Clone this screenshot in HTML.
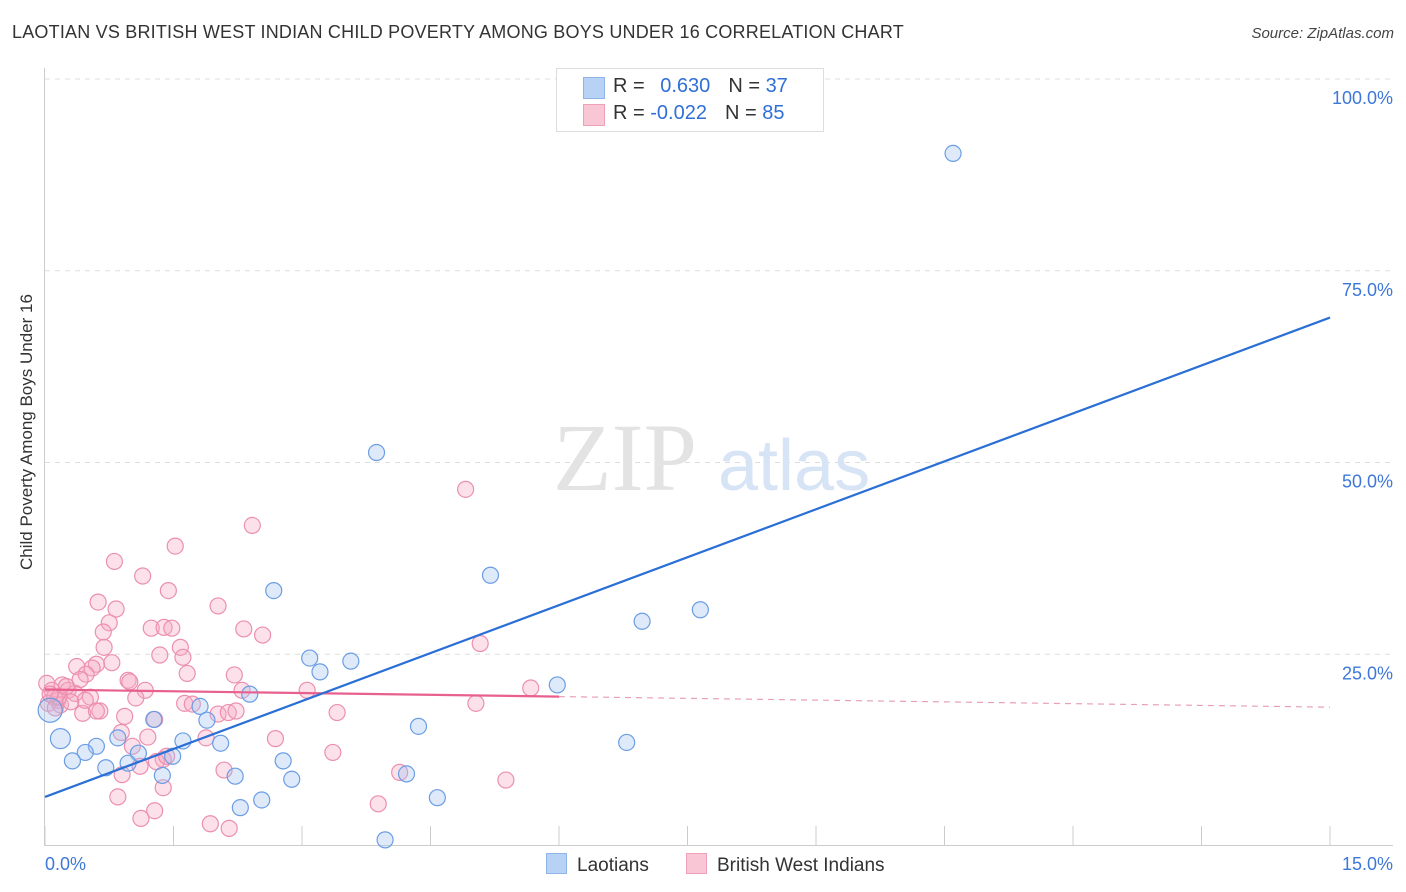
<!DOCTYPE html>
<html><head><meta charset="utf-8">
<style>
body{margin:0;background:#fff;font-family:"Liberation Sans",sans-serif;}
#wrap{position:relative;width:1406px;height:892px;overflow:hidden;}
.t{position:absolute;white-space:nowrap;}
</style></head>
<body>
<div id="wrap">
<div class="t" style="left:12px;top:22px;font-size:18px;color:#333;letter-spacing:0.2px">LAOTIAN VS BRITISH WEST INDIAN CHILD POVERTY AMONG BOYS UNDER 16 CORRELATION CHART</div>
<div class="t" style="right:12px;top:25px;font-size:15px;color:#444;font-style:italic">Source: ZipAtlas.com</div>
<div class="t" style="left:-88px;top:445px;font-size:17px;color:#333;transform:rotate(-90deg);width:230px;text-align:center">Child Poverty Among Boys Under 16</div>
<svg id="svg" width="1406" height="892" style="position:absolute;left:0;top:0"></svg>
<div style="position:absolute;left:556px;top:68px;width:266px;height:62px;border:1px solid #ddd;background:#fff;font-size:20px;">
  <div style="position:absolute;left:26px;top:8px;width:20px;height:20px;background:#b8d2f6;border:1px solid #8fb4e8"></div>
  <div class="t" style="left:56px;top:6px;color:#333">R = <span style="color:#2f6fd6;margin-left:10px">0.630</span><span style="color:#333;margin-left:18px">N = </span><span style="color:#2f6fd6">37</span></div>
  <div style="position:absolute;left:26px;top:35px;width:20px;height:20px;background:#f8c6d5;border:1px solid #eea2ba"></div>
  <div class="t" style="left:56px;top:33px;color:#333">R = <span style="color:#2f6fd6">-0.022</span><span style="color:#333;margin-left:18px">N = </span><span style="color:#2f6fd6">85</span></div>
</div>
<div style="position:absolute;left:546px;top:853px;font-size:19px;color:#333">
  <span style="display:inline-block;width:19px;height:19px;background:#b8d2f6;border:1px solid #8fb4e8;vertical-align:-3px;margin-right:10px"></span>Laotians</div>
<div style="position:absolute;left:686px;top:853px;font-size:19px;color:#333">
  <span style="display:inline-block;width:19px;height:19px;background:#f8c6d5;border:1px solid #eea2ba;vertical-align:-3px;margin-right:10px"></span>British West Indians</div>
</div>
<script>
const xTicks=[0,1.5,3,4.5,6,7.5,9,10.5,12,13.5,15];
const yTickVals=[25,50,75,100];
const yTickLabels=["25.0%","50.0%","75.0%","100.0%"];
const xTickLabels=["0.0%","15.0%"];
const laoX=[10.6,3.87,5.2,2.67,7.65,6.97,3.09,3.57,3.21,5.98,2.39,1.81,1.27,1.89,4.36,0.18,0.85,0.6,1.61,2.05,1.09,1.49,0.47,0.32,0.97,0.71,1.37,2.22,2.78,2.88,4.22,6.79,2.53,2.28,4.58,3.97,0.06];
const laoY=[90.3,51.3,35.3,33.3,30.8,29.3,24.5,24.1,22.7,21.0,19.8,18.2,16.5,16.4,15.6,14.0,14.1,13.0,13.7,13.4,12.1,11.7,12.2,11.1,10.8,10.2,9.2,9.1,11.1,8.7,9.4,13.5,6.0,5.0,6.3,0.8,17.7];
const bwiX=[4.91,2.42,1.52,0.81,1.14,1.44,0.62,0.83,2.02,0.75,1.24,1.39,1.48,2.32,2.54,0.68,0.69,1.58,1.34,1.61,0.78,0.6,0.37,0.55,5.08,1.66,2.21,0.48,0.41,0.97,0.99,0.2,0.27,1.17,2.3,3.06,5.67,0.02,0.08,0.35,0.11,0.53,0.15,0.04,0.18,1.06,1.63,1.72,5.03,0.64,2.02,2.14,2.23,3.41,0.12,0.44,0.93,1.28,0.89,1.2,1.88,2.69,1.02,3.36,1.38,1.3,1.42,1.11,2.09,4.14,0.9,1.38,0.85,1.28,1.12,1.93,2.15,3.89,5.38,0.16,0.25,0.47,0.6,0.3,0.06];
const bwiY=[46.5,41.8,39.1,37.1,35.2,33.3,31.8,30.9,31.3,29.1,28.4,28.5,28.4,28.3,27.5,27.9,25.9,25.9,24.9,24.6,23.9,23.7,23.4,23.2,26.4,22.5,22.3,22.4,21.7,21.6,21.4,21.0,20.3,20.3,20.3,20.3,20.6,21.2,20.3,19.9,19.4,19.4,19.0,18.6,18.4,19.3,18.6,18.5,18.6,17.6,17.2,17.4,17.6,17.4,18.0,17.3,16.9,16.5,14.8,14.2,14.1,14.0,13.0,12.2,11.3,11.0,11.7,10.4,9.9,9.6,9.3,7.6,6.4,4.6,3.6,2.9,2.3,5.5,8.6,19.4,20.8,19.0,17.6,18.8,19.8];
const blueLine=[6.4,68.9];
const pinkLine=[20.4,18.1];
const X0=45,X1=1330,Y0=846,Y100=79;
const sx=v=>X0+(X1-X0)*v/15;
const sy=v=>Y0-(Y0-Y100)*v/100;
const svg=document.getElementById('svg');
const NS='http://www.w3.org/2000/svg';
function mk(tag,attrs,parent){const e=document.createElementNS(NS,tag);for(const k in attrs)e.setAttribute(k,attrs[k]);(parent||svg).appendChild(e);return e;}
// grid
yTickVals.forEach((v,i)=>{
  const g=mk('line',{x1:45,x2:1393,y1:sy(v),y2:sy(v),stroke:'#ddd','stroke-dasharray':'5,5'});
  
  
  const t=mk('text',{x:1393,y:sy(v)+25,'text-anchor':'end','font-size':18,fill:'#3d78d8','font-family':'Liberation Sans, sans-serif'});
  t.textContent=yTickLabels[i];
  
  
});
mk('line',{x1:45,x2:1393,y1:79,y2:79,stroke:'#ddd','stroke-dasharray':'5,5'});
// axes
mk('line',{x1:44.5,x2:44.5,y1:68,y2:846,stroke:'#ccc'});
mk('line',{x1:45,x2:1393,y1:845.5,y2:845.5,stroke:'#ccc'});
xTicks.forEach(v=>{
  const l=mk('line',{x1:sx(v),x2:sx(v),y1:826,y2:846,stroke:'#ccc'});
  
  
});
[[0,'start',45],[15,'end',1393]].forEach((a,i)=>{
  const t=mk('text',{x:a[2],y:870,'text-anchor':a[1],'font-size':18,fill:'#3d78d8','font-family':'Liberation Sans, sans-serif'});
  t.textContent=xTickLabels[i];
  
  
});
// watermark
const w=mk('text',{x:553,y:490,'font-size':96,fill:'#e3e3e3','font-family':'Liberation Serif, serif'});w.textContent='ZIP';


const w2=mk('text',{x:718,y:490,'font-size':72,fill:'#d6e4f6','font-family':'Liberation Sans, sans-serif'});w2.textContent='atlas';


// points
bwiX.forEach((x,i)=>{
  const c=mk('circle',{cx:sx(x),cy:sy(bwiY[i]),r:8,fill:'rgba(246,170,195,0.35)',stroke:'#ec8fae','stroke-width':1.2});
  
  
});
laoX.forEach((x,i)=>{
  const c=mk('circle',{cx:sx(x),cy:sy(laoY[i]),r:i==laoX.length-1?12:(i==15?10:8),fill:'rgba(160,195,240,0.35)',stroke:'#6b9de4','stroke-width':1.2});
  
  
});
// trend lines
const pl=mk('line',{x1:sx(0),y1:sy(pinkLine[0]),x2:sx(6),y2:sy(pinkLine[0]+(pinkLine[1]-pinkLine[0])*6/15),stroke:'#e8608d','stroke-width':2.2});


const pd=mk('line',{x1:sx(6),y1:sy(pinkLine[0]+(pinkLine[1]-pinkLine[0])*6/15),x2:sx(15),y2:sy(pinkLine[1]),stroke:'#e8a0b8','stroke-width':1.2,'stroke-dasharray':'6,5'});


const bl=mk('line',{x1:sx(0),y1:sy(blueLine[0]),x2:sx(15),y2:sy(blueLine[1]),stroke:'#2a6fd6','stroke-width':2.2});


</script>
</body></html>
